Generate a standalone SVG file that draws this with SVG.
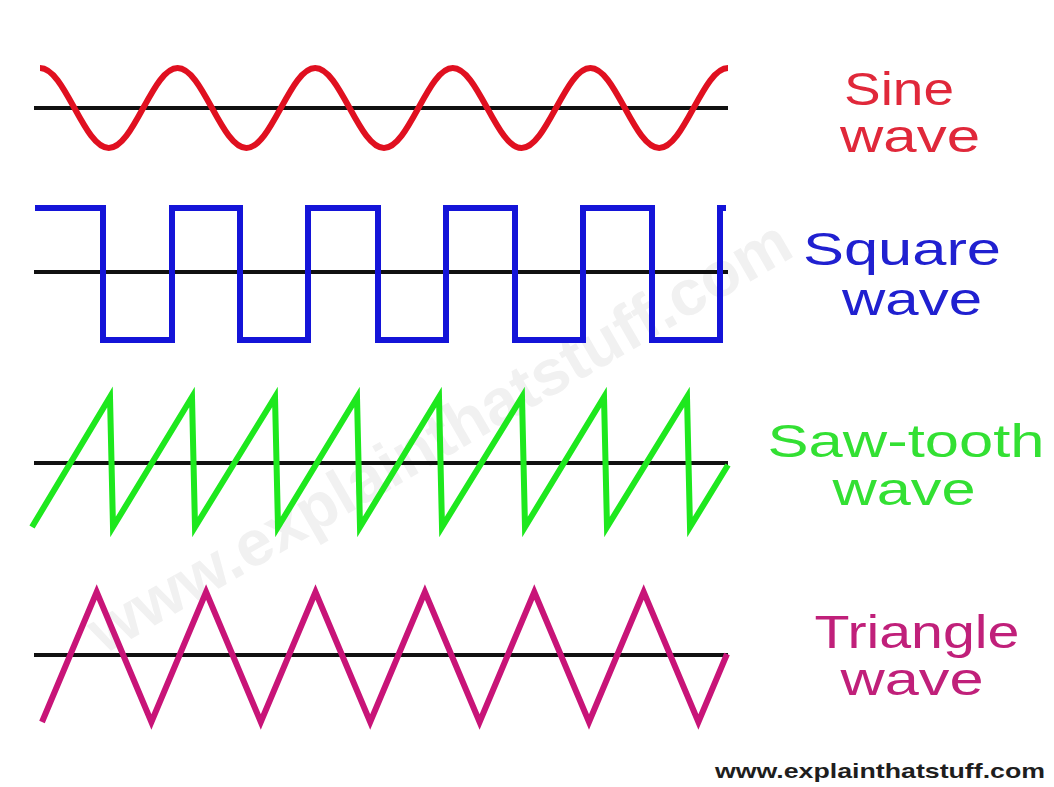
<svg xmlns="http://www.w3.org/2000/svg" width="1054" height="787" viewBox="0 0 1054 787">
<style>
.axis{stroke:#111;stroke-width:4;fill:none}
.wave{fill:none;stroke-width:6;stroke-linejoin:miter;stroke-linecap:butt}
.lbl{font-family:"Liberation Sans",Arial,sans-serif;font-size:46px;text-anchor:middle}
.wm{font-family:"Liberation Sans",Arial,sans-serif;font-weight:bold;font-size:64px;fill:#f1f1f1;text-anchor:middle}
.url{font-family:"Liberation Sans",Arial,sans-serif;font-weight:bold;font-size:21px;fill:#1e1e1e}
</style>
<rect x="0" y="0" width="1054" height="787" fill="#ffffff"/>
<text class="wm" x="450" y="455" transform="rotate(-30 450 455)" textLength="800" lengthAdjust="spacingAndGlyphs">www.explainthatstuff.com</text>
<g id="axes">
<line class="axis" x1="34" y1="108" x2="728" y2="108"/>
<line class="axis" x1="34" y1="272" x2="728" y2="272"/>
<line class="axis" x1="34" y1="463" x2="728" y2="463"/>
<line class="axis" x1="34" y1="655" x2="728" y2="655"/>
</g>
<g id="sine">
<path class="wave" stroke="#e01020" stroke-width="7.5" d="M40,68 c12.45,0 23.18,19.51 34.4,40 c11.22,20.49 21.95,40 34.4,40 c12.45,0 23.18,-19.51 34.4,-40 c11.22,-20.49 21.95,-40 34.4,-40 c12.45,0 23.18,19.51 34.4,40 c11.22,20.49 21.95,40 34.4,40 c12.45,0 23.18,-19.51 34.4,-40 c11.22,-20.49 21.95,-40 34.4,-40 c12.45,0 23.18,19.51 34.4,40 c11.22,20.49 21.95,40 34.4,40 c12.45,0 23.18,-19.51 34.4,-40 c11.22,-20.49 21.95,-40 34.4,-40 c12.45,0 23.18,19.51 34.4,40 c11.22,20.49 21.95,40 34.4,40 c12.45,0 23.18,-19.51 34.4,-40 c11.22,-20.49 21.95,-40 34.4,-40 c12.45,0 23.18,19.51 34.4,40 c11.22,20.49 21.95,40 34.4,40 c12.45,0 23.18,-19.51 34.4,-40 c11.22,-20.49 21.95,-40 34.4,-40"/>
<text class="lbl" fill="#e0283a" x="899" y="105" textLength="110" lengthAdjust="spacingAndGlyphs">Sine</text>
<text class="lbl" fill="#e0283a" x="910" y="152" textLength="140" lengthAdjust="spacingAndGlyphs">wave</text>
</g>
<g id="square">
<path class="wave" stroke="#1414d8" d="M35,208 H103 V340 H172 V208 H240 V340 H308 V208 H378 V340 H446 V208 H515 V340 H583 V208 H652 V340 H720 V208 H726"/>
<text class="lbl" fill="#2020d0" x="902" y="265" textLength="198" lengthAdjust="spacingAndGlyphs">Square</text>
<text class="lbl" fill="#2020d0" x="912" y="315" textLength="140" lengthAdjust="spacingAndGlyphs">wave</text>
</g>
<g id="sawtooth">
<path class="wave" stroke="#1ee81e" d="M32,527 L110,397 L113,527 L192,397 L195,527 L275,397 L278,527 L357,397 L360,527 L439,397 L442,527 L522,397 L525,527 L604,397 L607,527 L687,397 L690,527 L728,465"/>
<text class="lbl" fill="#33e033" x="906" y="457" textLength="277" lengthAdjust="spacingAndGlyphs">Saw-tooth</text>
<text class="lbl" fill="#33e033" x="904" y="505" textLength="143" lengthAdjust="spacingAndGlyphs">wave</text>
</g>
<g id="triangle">
<path class="wave" stroke="#c81478" d="M42,722 L96.7,592 L151.4,722 L206.1,592 L260.8,722 L315.5,592 L370.2,722 L424.9,592 L479.6,722 L534.3,592 L589,722 L643.7,592 L698.4,722 L727,654"/>
<text class="lbl" fill="#c0207a" x="917" y="648" textLength="205" lengthAdjust="spacingAndGlyphs">Triangle</text>
<text class="lbl" fill="#c0207a" x="912" y="695" textLength="143" lengthAdjust="spacingAndGlyphs">wave</text>
</g>
<text class="url" x="715" y="778" textLength="330" lengthAdjust="spacingAndGlyphs">www.explainthatstuff.com</text>
</svg>
